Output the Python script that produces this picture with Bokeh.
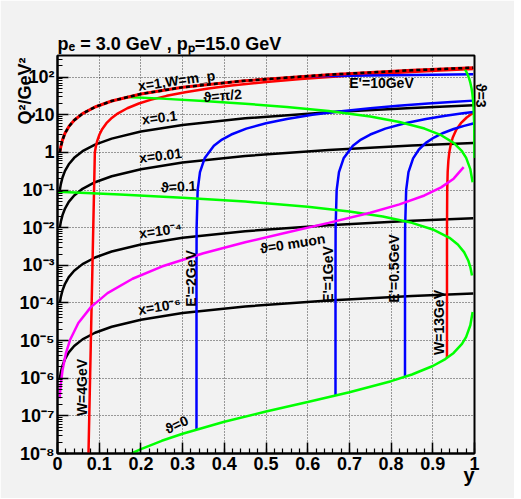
import math
from bokeh.plotting import figure
from bokeh.models import FixedTicker, Range1d, Label, Title
from bokeh.embed import file_html
from bokeh.resources import INLINE

# ---------------- data ----------------
X_TICKS = [0.0, 0.1, 0.2, 0.3, 0.4, 0.5, 0.6, 0.7, 0.8, 0.9, 1.0]
X_TICK_LABELS = ["0", "0.1", "0.2", "0.3", "0.4", "0.5", "0.6", "0.7", "0.8", "0.9", "1"]
Y_TICKS = [1e-8, 1e-7, 1e-6, 1e-5, 1e-4, 1e-3, 1e-2, 1e-1, 1.0, 10.0, 100.0]
Y_TICK_LABELS = ["10⁻⁸", "10⁻⁷", "10⁻⁶", "10⁻⁵", "10⁻⁴", "10⁻³", "10⁻²", "10⁻¹", "1", "10", "10²"]

TITLE = "pₑ = 3.0 GeV , pₚ=15.0 GeV"
X_TITLE = "y"
Y_TITLE = "Q²/GeV²"

# constant x lines (black)
Y_X = [0.0056, 0.008, 0.012, 0.018, 0.027, 0.04, 0.06, 0.09, 0.13, 0.2, 0.3, 0.45, 0.65, 0.85, 0.997]
Q2_X1 = [1.008, 1.44, 2.16, 3.24, 4.86, 7.2, 10.8, 16.2, 23.4, 36.0, 54.0, 81.0, 117.0, 153.0, 179.5]
Q2_X0_1 = [0.1008, 0.144, 0.216, 0.324, 0.486, 0.72, 1.08, 1.62, 2.34, 3.6, 5.4, 8.1, 11.7, 15.3, 17.95]
Q2_X0_01 = [0.01008, 0.0144, 0.0216, 0.0324, 0.0486, 0.072, 0.108, 0.162, 0.234, 0.36, 0.54, 0.81, 1.17, 1.53, 1.795]
Q2_X1E4 = [1.008e-4, 1.44e-4, 2.16e-4, 3.24e-4, 4.86e-4, 7.2e-4, 1.08e-3, 1.62e-3, 2.34e-3, 3.6e-3,
           5.4e-3, 8.1e-3, 1.17e-2, 1.53e-2, 1.795e-2]
Q2_X1E6 = [1.008e-6, 1.44e-6, 2.16e-6, 3.24e-6, 4.86e-6, 7.2e-6, 1.08e-5, 1.62e-5, 2.34e-5, 3.6e-5,
           5.4e-5, 8.1e-5, 1.17e-4, 1.53e-4, 1.795e-4]

# constant W lines (red)
Y_W4 = [0.0724, 0.08956, 0.09178, 0.09511, 0.10067, 0.10622, 0.11733, 0.12844, 0.14511, 0.16733, 0.19511,
        0.22289, 0.26178, 0.30622, 0.36178, 0.41733, 0.50067, 0.584, 0.69511, 0.80622, 0.91733, 0.997]
Q2_W4 = [1e-9, 1.0, 1.4, 2.0, 3.0, 4.0, 6.0, 8.0, 11.0, 15.0, 20.0, 25.0, 32.0, 40.0, 50.0, 60.0, 75.0,
         90.0, 110.0, 130.0, 150.0, 164.3]
Y_W13 = [0.934, 0.934056, 0.934556, 0.935667, 0.937333, 0.939556, 0.942889, 0.947889, 0.956222, 0.967333,
         0.981222, 0.997]
Q2_W13 = [3.45e-6, 0.01, 0.1, 0.3, 0.6, 1.0, 1.6, 2.5, 4.0, 6.0, 8.5, 11.34]

# constant E' lines (blue)
Y_E10 = [0.5833, 0.65, 0.75, 0.85, 0.997]
Q2_E10 = [105.0, 107.4, 111.0, 114.6, 119.9]
Y_E2 = [0.333333, 0.333361, 0.333611, 0.336111, 0.341667, 0.352778, 0.375, 0.394444, 0.416667, 0.452778,
        0.5, 0.55, 0.611111, 0.675, 0.75, 0.816667, 0.888889, 0.944444, 0.997]
Q2_E2 = [4.35e-8, 0.001, 0.01, 0.1, 0.3, 0.7, 1.5, 2.2, 3.0, 4.3, 6.0, 7.8, 10.0, 12.3, 15.0, 17.4, 20.0,
         22.0, 23.89]
Y_E1 = [0.666667, 0.666694, 0.666944, 0.669444, 0.675, 0.686111, 0.708333, 0.727778, 0.75, 0.786111,
        0.833333, 0.883333, 0.930556, 0.972222, 0.996944]
Q2_E1 = [3.48e-7, 0.001, 0.01, 0.1, 0.3, 0.7, 1.5, 2.2, 3.0, 4.3, 6.0, 7.8, 9.5, 11.0, 11.89]
Y_E05 = [0.833333, 0.833361, 0.833611, 0.836111, 0.841667, 0.852778, 0.866667, 0.883333, 0.902778, 0.925,
         0.95, 0.975, 0.996944]
Q2_E05 = [1.088e-6, 0.001, 0.01, 0.1, 0.3, 0.7, 1.2, 1.8, 2.5, 3.3, 4.2, 5.1, 5.89]

# constant theta lines (green)
Y_TPI2 = [0.16667, 0.25, 0.35, 0.45, 0.55, 0.65, 0.75, 0.82, 0.88, 0.92, 0.95, 0.97, 0.98, 0.99, 0.9955]
Q2_TPI2 = [30.0, 27.0, 23.4, 19.8, 16.2, 12.6, 9.0, 6.48, 4.32, 2.88, 1.8, 1.08, 0.72, 0.36, 0.162]
Y_T01 = [0.0005, 0.15, 0.3, 0.45, 0.6, 0.7, 0.78, 0.85, 0.9, 0.94, 0.96, 0.975, 0.985, 0.99, 0.994]
Q2_T01 = [0.09003, 0.07656, 0.06305, 0.04954, 0.03603, 0.02702, 0.01982, 0.01351, 0.009008, 0.005405,
          0.003603, 0.002252, 0.001351, 0.0009008, 0.0005405]
Y_T3 = [0.97547, 0.978, 0.981, 0.984, 0.987, 0.99, 0.993, 0.995, 0.997, 0.998, 0.999, 0.9995, 0.9998, 0.9999]
Q2_T3 = [175.6, 157.5, 136.0, 114.5, 93.1, 71.6, 50.1, 35.8, 21.5, 14.3, 7.16, 3.58, 1.43, 0.716]
Y_T0 = [0.1775, 0.2, 0.25, 0.3, 0.4, 0.5, 0.6, 0.7, 0.8, 0.85, 0.9, 0.93, 0.95, 0.97, 0.98, 0.99, 0.9955]
Q2_T0 = [1.0e-8, 1.306e-8, 2.176e-8, 3.357e-8, 6.963e-8, 1.306e-7, 2.35e-7, 4.265e-7, 8.355e-7, 1.258e-6,
         2.115e-6, 3.226e-6, 4.713e-6, 8.189e-6, 1.254e-5, 2.559e-5, 5.75e-5]

# theta = 0 for a muon (magenta)
Y_MU = [0.0051, 0.008, 0.012, 0.02, 0.03, 0.05, 0.08, 0.12, 0.18, 0.25, 0.35, 0.45, 0.55, 0.65, 0.75, 0.82,
        0.88, 0.92, 0.95, 0.974]
Q2_MU = [2.918e-7, 7.2e-7, 1.627e-6, 4.557e-6, 1.0358e-5, 2.938e-5, 7.766e-5, 1.8268e-4, 4.411e-4, 9.303e-4,
         2.104e-3, 4.11e-3, 7.505e-3, 1.3477e-2, 2.512e-2, 4.17e-2, 7.204e-2, 0.11812, 0.20151, 0.40735]

CURVE_LABELS = ["x=1,W=m_p", "ϑ=π/2", "E'=10GeV", "x=0.1", "x=0.01", "ϑ=0.1", "x=10⁻⁴",
                "x=10⁻⁶", "E'=2GeV", "ϑ=0 muon", "E'=1GeV", "E'=0.5GeV", "W=13GeV", "W=4GeV", "ϑ=0"]
EDGE_LABEL = "ϑ=3"

# ---------------- figure ----------------
Y_MAX = 378.0
FONT = "Liberation Sans"
BG = "#f2f2f2"

p = figure(width=514, height=498, x_range=Range1d(0, 1), y_range=Range1d(1e-8, Y_MAX),
           y_axis_type="log", output_backend="svg", toolbar_location=None,
           min_border_left=57, min_border_right=40, min_border_top=55, min_border_bottom=45,
           background_fill_color=BG, border_fill_color=BG)
p.outline_line_color = "black"
p.outline_line_width = 2

p.title.text = TITLE
p.title.align = "left"
p.title.text_font = FONT
p.title.text_font_style = "bold"
p.title.text_font_size = "18px"
p.title.text_color = "black"
p.title.standoff = 3

x_minor = [round(i * 0.02, 2) for i in range(51)]
y_minor = [k * 10.0 ** e for e in range(-8, 3) for k in range(2, 10) if k * 10.0 ** e < Y_MAX]
p.xaxis.ticker = FixedTicker(ticks=X_TICKS, minor_ticks=x_minor)
p.yaxis.ticker = FixedTicker(ticks=Y_TICKS, minor_ticks=y_minor)
p.xaxis.major_label_overrides = dict(zip(X_TICKS, X_TICK_LABELS))
p.yaxis.major_label_overrides = dict(zip(Y_TICKS, Y_TICK_LABELS))
for ax in (p.xaxis[0], p.yaxis[0]):
    ax.axis_line_width = 2
    ax.axis_line_color = "black"
    ax.major_tick_in = 11
    ax.major_tick_out = 0
    ax.minor_tick_in = 5
    ax.minor_tick_out = 0
    ax.major_tick_line_width = 1.5
    ax.minor_tick_line_width = 1.2
    ax.major_label_text_font = FONT
    ax.major_label_text_font_style = "bold"
    ax.major_label_text_font_size = "18px"
    ax.major_label_text_color = "black"
    ax.major_label_standoff = 3

for g in (p.xgrid[0], p.ygrid[0]):
    g.grid_line_color = "black"
    g.grid_line_alpha = 0.75
    g.grid_line_dash = "1 2"
    g.grid_line_width = 1

# axis titles, placed at the ends of the axes as in the original
p.add_layout(Title(text=Y_TITLE, align="right", offset=2, standoff=-36, vertical_align="bottom",
                   text_font=FONT, text_font_style="bold", text_font_size="18px",
                   text_color="black"), "left")
p.add_layout(Title(text=X_TITLE, align="right", offset=0, standoff=-18, vertical_align="top",
                   text_font=FONT, text_font_style="bold", text_font_size="20px",
                   text_color="black"), "below")
# label that sits on the right frame edge
p.add_layout(Title(text=EDGE_LABEL, align="left", offset=28, standoff=-4, vertical_align="bottom",
                   text_font=FONT, text_font_style="bold", text_font_size="14px",
                   text_color="black"), "right")

LW = 2.5
for q in (Q2_X0_1, Q2_X0_01, Q2_X1E4, Q2_X1E6):
    p.line(Y_X, q, line_color="black", line_width=LW)
p.line(Y_W4, Q2_W4, line_color="#ff0000", line_width=LW)
p.line(Y_W13, Q2_W13, line_color="#ff0000", line_width=LW)
for yy, qq in ((Y_E10, Q2_E10), (Y_E2, Q2_E2), (Y_E1, Q2_E1), (Y_E05, Q2_E05)):
    p.line(yy, qq, line_color="#0000ff", line_width=LW)
for yy, qq in ((Y_TPI2, Q2_TPI2), (Y_T01, Q2_T01), (Y_T3, Q2_T3), (Y_T0, Q2_T0)):
    p.line(yy, qq, line_color="#00ff00", line_width=LW)
p.line(Y_MU, Q2_MU, line_color="#ff00ff", line_width=LW)
p.line(Y_X, Q2_X1, line_color="#ff0000", line_width=3)
p.line(Y_X, Q2_X1, line_color="black", line_width=2.5, line_dash="4 3")

# ---------------- curve labels (page pixel -> data) ----------------
FX0, FX1, FY0, FY1 = 57.0, 474.0, 453.0, 55.0
LO, HI = -8.0, math.log10(Y_MAX)


def dx(px):
    return (px - FX0) / (FX1 - FX0)


def dy(py):
    return 10 ** (LO + (FY0 - py) / (FY0 - FY1) * (HI - LO))


def lab(text, px, py, angle=0.0, size="14px"):
    p.add_layout(Label(x=dx(px), y=dy(py), text=text, angle=angle, angle_units="deg",
                       text_font=FONT, text_font_style="bold", text_font_size=size,
                       text_align="center", text_baseline="middle", text_color="black"))


label_pos = [(176, 80, 8), (222, 95, 5), (381, 82, 0), (159, 117, 7), (160, 155, 7),
             (178, 186, 3), (160, 230, 8), (159, 306, 9), (190, 278, 90), (292, 243, 9),
             (327, 274, 90), (393, 268, 90), (438, 322, 90), (81, 387, 90), (176, 424, 25)]
for t, (px, py, a) in zip(CURVE_LABELS, label_pos):
    lab(t, px, py, a)

open("out.html", "w").write(file_html(p, INLINE))
